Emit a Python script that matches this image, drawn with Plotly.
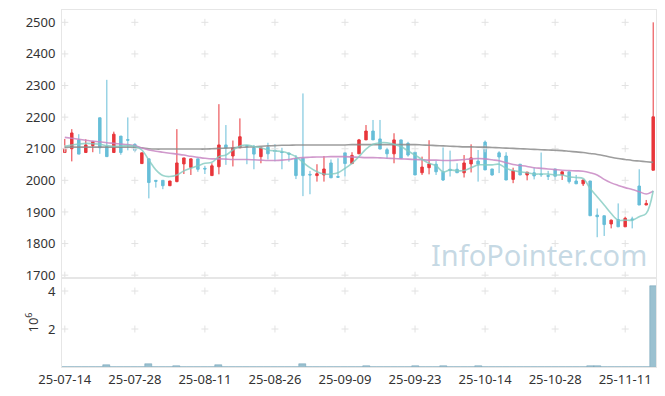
import plotly.graph_objects as go
from plotly.subplots import make_subplots

dates = ["25-07-14","25-07-15","25-07-16","25-07-17","25-07-18","25-07-21","25-07-22","25-07-23","25-07-24","25-07-25",
         "25-07-28","25-07-29","25-07-30","25-07-31","25-08-01","25-08-04","25-08-05","25-08-06","25-08-07","25-08-08",
         "25-08-11","25-08-12","25-08-13","25-08-14","25-08-18","25-08-19","25-08-20","25-08-21","25-08-22","25-08-25",
         "25-08-26","25-08-27","25-08-28","25-08-29","25-09-01","25-09-02","25-09-03","25-09-04","25-09-05","25-09-08",
         "25-09-09","25-09-10","25-09-11","25-09-12","25-09-15","25-09-16","25-09-17","25-09-18","25-09-19","25-09-22",
         "25-09-23","25-09-24","25-09-25","25-09-26","25-09-29","25-09-30","25-10-01","25-10-02","25-10-10","25-10-13",
         "25-10-14","25-10-15","25-10-16","25-10-17","25-10-20","25-10-21","25-10-22","25-10-23","25-10-24","25-10-27",
         "25-10-28","25-10-29","25-10-30","25-10-31","25-11-03","25-11-04","25-11-05","25-11-06","25-11-07","25-11-10",
         "25-11-11","25-11-12","25-11-13","25-11-14","25-11-17"]

opens  = [2088,2100,2128,2088,2110,2198,2107,2088,2140,2129,
          2114,2053,2068,2000,2000,1983,1996,2052,2041,2068,
          2038,2015,2043,2112,2077,2103,2110,2103,2075,2105,
          2095,2090,2086,2070,2070,2019,2015,2017,2055,2012,
          2087,2053,2084,2128,2156,2131,2097,2084,2128,2117,
          2089,2024,2040,2051,2026,2035,2035,2024,2052,2061,
          2121,2036,2087,2077,2003,2051,2017,2024,2020,2015,
          2036,2018,2027,1998,1989,1998,1890,1888,1862,1876,
          1853,1878,1982,1922,2032]
highs  = [2131,2162,2146,2130,2122,2198,2318,2154,2140,2199,
          2117,2087,2068,2000,2000,1998,2162,2071,2068,2068,
          2046,2054,2241,2175,2126,2196,2112,2112,2103,2119,
          2114,2103,2088,2080,2275,2030,2051,2077,2066,2070,
          2087,2089,2131,2175,2191,2191,2103,2149,2128,2122,
          2089,2075,2127,2061,2104,2094,2054,2080,2114,2096,
          2126,2036,2092,2089,2040,2051,2026,2040,2088,2030,
          2036,2027,2027,2017,2001,1998,1911,1888,1876,1927,
          1885,1885,2035,1938,2500]
lows   = [2088,2060,2083,2088,2089,2084,2075,2088,2081,2095,
          2089,2053,1943,1977,1972,1983,1994,2020,2017,2027,
          2020,2015,2019,2049,2044,2103,2051,2035,2054,2066,
          2060,2035,2059,2004,1950,1956,1996,1996,2008,2009,
          2012,2053,2084,2128,2128,2099,2069,2054,2070,2075,
          2017,2017,2019,2017,1998,2012,2024,2009,2025,1996,
          2033,2015,2023,2001,1991,2017,2000,2003,2011,2001,
          2001,2001,1990,1989,1982,1888,1820,1824,1848,1853,
          1853,1848,1922,1922,2032]
closes = [2101,2150,2083,2112,2122,2103,2075,2146,2088,2127,
          2095,2087,1993,1997,1983,1998,2055,2071,2068,2035,
          2036,2046,2112,2103,2103,2138,2108,2083,2103,2084,
          2092,2088,2083,2015,2015,2017,2021,2036,2008,2010,
          2053,2079,2128,2156,2128,2099,2084,2128,2070,2080,
          2017,2042,2052,2027,2001,2031,2024,2055,2071,2051,
          2033,2017,2074,2001,2030,2017,2026,2014,2018,2013,
          2013,2027,1996,1989,2001,1888,1885,1860,1874,1853,
          1880,1875,1922,1927,2201]

ma_short = [2108,2112,2115,2117,2116,2114,2110,2108,2108,2110,
            2108,2096,2064,2033,2015,2012,2017,2030,2038,2046,
            2054,2057,2075,2080,2096,2109,2112,2107,2103,2096,
            2093,2091,2085,2075,2057,2040,2027,2020,2020,2024,
            2038,2054,2075,2099,2114,2119,2119,2114,2107,2093,
            2080,2066,2054,2046,2027,2033,2030,2031,2040,2049,
            2049,2049,2051,2038,2031,2027,2024,2020,2020,2020,
            2017,2017,2011,2009,2006,1974,1948,1922,1895,1874,
            1874,1874,1885,1895,1967]
ma_mid   = [2136,2133,2130,2127,2124,2122,2119,2117,2115,2113,
            2110,2102,2096,2092,2089,2086,2083,2080,2076,2073,
            2070,2068,2068,2067,2066,2066,2066,2065,2064,2063,
            2063,2064,2066,2070,2072,2073,2074,2074,2075,2075,
            2075,2074,2073,2072,2072,2071,2070,2069,2068,2067,
            2066,2065,2064,2064,2063,2063,2064,2066,2068,2069,
            2068,2065,2062,2056,2050,2047,2044,2040,2038,2036,
            2034,2032,2031,2030,2029,2024,2017,2003,1992,1984,
            1977,1971,1964,1957,1966]
ma_long  = [2105,2105,2105,2105,2105,2105,2105,2105,2105,2105,
            2105,2103,2100,2099,2099,2099,2099,2099,2099,2099,
            2099,2100,2101,2102,2103,2104,2105,2106,2108,2109,
            2110,2111,2111,2112,2112,2112,2112,2112,2112,2112,
            2112,2113,2113,2113,2113,2113,2113,2113,2113,2113,
            2113,2112,2111,2110,2109,2108,2107,2106,2106,2105,
            2105,2104,2103,2102,2101,2100,2099,2098,2097,2096,
            2095,2094,2092,2090,2088,2085,2082,2078,2073,2069,
            2066,2063,2061,2059,2057]

volume = [12000,15000,10000,9000,11000,14000,120000,16000,10000,12000,
          13000,15000,180000,14000,12000,9000,50000,15000,12000,10000,
          11000,14000,130000,20000,15000,18000,12000,10000,9000,11000,
          14000,16000,12000,20000,180000,25000,15000,12000,10000,9000,
          14000,12000,20000,45000,20000,18000,12000,16000,11000,10000,
          45000,15000,20000,12000,45000,15000,12000,11000,14000,45000,
          20000,12000,15000,16000,13000,11000,10000,9000,12000,10000,
          11000,10000,14000,12000,15000,50000,50000,20000,15000,18000,
          16000,14000,25000,15000,4270000]

price_ticks = [1700, 1800, 1900, 2000, 2100, 2200, 2300, 2400, 2500]
vol_ticks = [2000000, 4000000]
vol_tick_text = ["2", "4"]
x_ticks = dates[::10]

RED = "#e8363b"
BLUE = "#67bed8"
GRID = "#e2e2e2"
AXIS = "#e6e6e6"
FONT = dict(family="Noto Sans", size=13, color="#333333")

fig = make_subplots(rows=2, cols=1, shared_xaxes=True, vertical_spacing=0)

fig.add_trace(go.Candlestick(x=dates, open=opens, high=highs, low=lows, close=closes,
                             increasing=dict(line=dict(color=RED, width=1), fillcolor=RED),
                             decreasing=dict(line=dict(color=BLUE, width=1), fillcolor=BLUE),
                             whiskerwidth=0, showlegend=False, hoverinfo="skip"), row=1, col=1)

fig.add_trace(go.Bar(x=dates, y=volume, showlegend=False, hoverinfo="skip",
                     marker=dict(color="rgba(130,178,196,0.8)", line=dict(color="rgba(100,150,175,0.9)", width=0.5))),
              row=2, col=1)

# grid crosses
gx = [x for x in x_ticks for _ in price_ticks]
gy = [y for _ in x_ticks for y in price_ticks]
fig.add_trace(go.Scatter(x=gx, y=gy, mode="markers", hoverinfo="skip", showlegend=False,
                         marker=dict(symbol="cross-thin", size=5, line=dict(color=GRID, width=1))), row=1, col=1)
vx = [x for x in x_ticks for _ in vol_ticks]
vy = [y for _ in x_ticks for y in vol_ticks]
fig.add_trace(go.Scatter(x=vx, y=vy, mode="markers", hoverinfo="skip", showlegend=False,
                         marker=dict(symbol="cross-thin", size=5, line=dict(color=GRID, width=1))), row=2, col=1)

fig.add_trace(go.Scatter(x=dates, y=ma_long, mode="lines", showlegend=False, hoverinfo="skip",
                         line=dict(color="rgba(140,140,140,0.85)", width=1.6, shape="spline")), row=1, col=1)
fig.add_trace(go.Scatter(x=dates, y=ma_mid, mode="lines", showlegend=False, hoverinfo="skip",
                         line=dict(color="rgba(200,135,195,0.85)", width=1.6, shape="spline")), row=1, col=1)
fig.add_trace(go.Scatter(x=dates, y=ma_short, mode="lines", showlegend=False, hoverinfo="skip",
                         line=dict(color="rgba(130,202,192,0.8)", width=1.6, shape="spline")), row=1, col=1)

vol_frac = 89 / 357
xcommon = dict(type="category", categoryorder="array", categoryarray=dates, range=[-0.4, 84.4],
               showgrid=False, showline=True, linecolor=AXIS, mirror=True, ticks="", automargin=False)
ycommon = dict(showgrid=False, zeroline=False, showline=True, linecolor=AXIS, mirror=True,
               ticks="outside", ticklen=3, tickcolor="rgba(0,0,0,0)", tickfont=FONT, automargin=False)
fig.update_layout(
    width=665, height=396,
    margin=dict(l=62, r=9, t=10, b=29),
    paper_bgcolor="white", plot_bgcolor="white",
    font=FONT, bargap=0, boxgap=0.5,
    showlegend=False, hovermode=False,
    xaxis=dict(**xcommon, showticklabels=False, rangeslider=dict(visible=False)),
    xaxis2=dict(**xcommon, tickvals=x_ticks, ticktext=x_ticks, tickangle=0, tickfont=FONT),
    yaxis=dict(**ycommon, domain=[vol_frac, 1], range=[1691, 2539], tickvals=price_ticks),
    yaxis2=dict(**ycommon, domain=[0, vol_frac], range=[0, 4684000], tickvals=vol_ticks, ticktext=vol_tick_text,
                title=dict(text="10<sup>6</sup>", font=FONT, standoff=6)),
    annotations=[dict(text="InfoPointer.com", xref="paper", yref="paper", x=0.803, y=0.3165,
                      xanchor="center", yanchor="middle", showarrow=False,
                      font=dict(family="Noto Sans", size=29, color="rgba(160,192,210,0.6)"))],
)

fig.write_html("out.html", config={"displayModeBar": False},
               post_script="document.body.style.margin='0';")
